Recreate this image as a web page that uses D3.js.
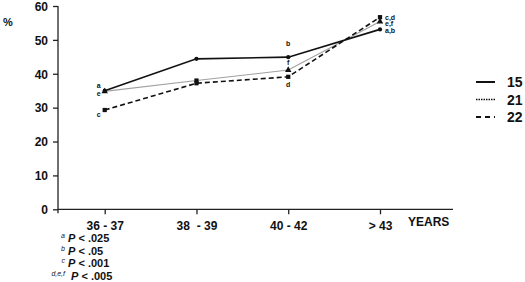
<!DOCTYPE html>
<html><head><meta charset="utf-8">
<script src="https://cdn.jsdelivr.net/npm/d3@7"></script>
<style>
body{margin:0;background:#fff;}
text{font-family:"Liberation Sans",Arial,sans-serif;font-weight:bold;fill:#111;}
</style></head>
<body><svg id="c" width="525" height="282"></svg>
<script>
const categories = ["36 - 37", "38  - 39", "40 - 42", "> 43"];
const yTicks = [0, 10, 20, 30, 40, 50, 60];
const series15 = [35.0, 44.4, 44.9, 53.1];
const series21 = [34.8, 38.0, 41.1, 55.4];
const series22 = [29.3, 37.2, 39.1, 56.7];
const notes15 = ["a", "", "b", "a,b"];
const notes21 = ["e", "", "f", "e,f"];
const notes22 = ["c", "", "d", "c,d"];
const legendNames = ["15", "21", "22"];
const footSup = ["a", "b", "c", "d,e,f"];
const footText = ["< .025", "< .05", "< .001", "< .005"];

const svg = d3.select("#c");
const x = d3.scalePoint().domain(categories).range([104.7, 380]);
const y = d3.scaleLinear().domain([0, 60]).range([209.3, 6]);

// axes
const yAxis = svg.append("g").attr("transform", "translate(58,0)")
  .call(d3.axisLeft(y).tickValues(yTicks).tickSize(5).tickPadding(5));
yAxis.select(".domain").attr("d", "M0," + y(60) + "V" + (y(0) + 4)).attr("stroke", "#222").attr("stroke-width", 1.3);
yAxis.selectAll(".tick line").attr("stroke", "#222").attr("stroke-width", 1.3);
yAxis.selectAll(".tick text").style("font-size", "12px").attr("dy", "0.36em");

const xAxis = svg.append("g").attr("transform", "translate(0," + y(0) + ")")
  .call(d3.axisBottom(x).tickSize(5).tickPadding(5));
xAxis.select(".domain").attr("d", "M58,0H453").attr("stroke", "#222").attr("stroke-width", 1.3);
xAxis.selectAll(".tick line").attr("stroke", "#222").attr("stroke-width", 1.3);
xAxis.selectAll(".tick text").style("font-size", "12px").attr("dy", "0.9em").attr("xml:space", "preserve");

svg.append("text").attr("x", 408).attr("y", 226).style("font-size", "12px").text("YEARS");
svg.append("text").attr("x", 3).attr("y", 26).style("font-size", "11px").text("%");

const line = d3.line().x((d, i) => x(categories[i])).y(d => y(d));

const defs = [
  {vals: series21, stroke: "#a0a0a0", w: 1.1, dash: null, mark: "tri"},
  {vals: series22, stroke: "#111", w: 1.6, dash: "5,3", mark: "sq"},
  {vals: series15, stroke: "#111", w: 1.6, dash: null, mark: "dot"}
];
defs.forEach(s => {
  svg.append("path").datum(s.vals).attr("d", line).attr("fill", "none")
    .attr("stroke", s.stroke).attr("stroke-width", s.w).attr("stroke-dasharray", s.dash);
  const sym = s.mark === "sq" ? d3.symbolSquare : s.mark === "tri" ? d3.symbolTriangle : d3.symbolCircle;
  svg.selectAll(null).data(s.vals).enter().append("path")
    .attr("d", (d, i) => d3.symbol().type(s.mark === "tri" && i === 1 ? d3.symbolSquare : sym).size(s.mark === "dot" ? 14 : 18)())
    .attr("transform", (d, i) => "translate(" + x(categories[i]) + "," + y(d) + ")")
    .attr("fill", "#111");
});

// point annotations
function annotate(vals, notes, kind) {
  vals.forEach((v, i) => {
    const t = notes[i];
    if (!t) return;
    const px = x(categories[i]), py = y(v);
    let ax, ay, anchor = "middle";
    if (i === 0) {
      ax = px - 6;
      ay = kind === "top" ? py - 3 : kind === "mid" ? py + 5 : py + 7;
    } else if (i === 2) {
      ax = px;
      ay = kind === "top" ? py - 11 : kind === "mid" ? py - 5 : py + 10;
    } else {
      ax = px + 5; anchor = "start";
      ay = kind === "top" ? 32.5 : kind === "mid" ? 26 : 19.5;
    }
    svg.append("text").attr("x", ax).attr("y", ay).attr("text-anchor", anchor)
      .style("font-size", "7px").text(t);
  });
}
annotate(series15, notes15, "top");
annotate(series21, notes21, "mid");
annotate(series22, notes22, "bot");

// legend
const lg = svg.append("g");
legendNames.forEach((n, i) => {
  const ly = [82, 99.5, 117][i];
  lg.append("line").attr("x1", 476).attr("x2", 495).attr("y1", ly).attr("y2", ly)
    .attr("stroke", "#111").attr("stroke-width", i === 1 ? 1.6 : 2)
    .attr("stroke-dasharray", i === 1 ? "1.5,1" : i === 2 ? "5,4" : null);
  lg.append("text").attr("x", 507).attr("y", ly + 5).style("font-size", "14px").text(n);
});

// footnotes
footSup.forEach((s, i) => {
  const by = 242 + i * 12.6;
  svg.append("text").attr("x", 65).attr("y", by - 4).attr("text-anchor", "end")
    .style("font-size", "7px").style("font-style", "italic").style("font-weight", "normal").text(s);
  const t = svg.append("text").attr("x", i === 3 ? 71 : 68).attr("y", by).style("font-size", "11px");
  t.append("tspan").style("font-style", "italic").text("P");
  t.append("tspan").text(" " + footText[i]);
});
</script></body></html>
